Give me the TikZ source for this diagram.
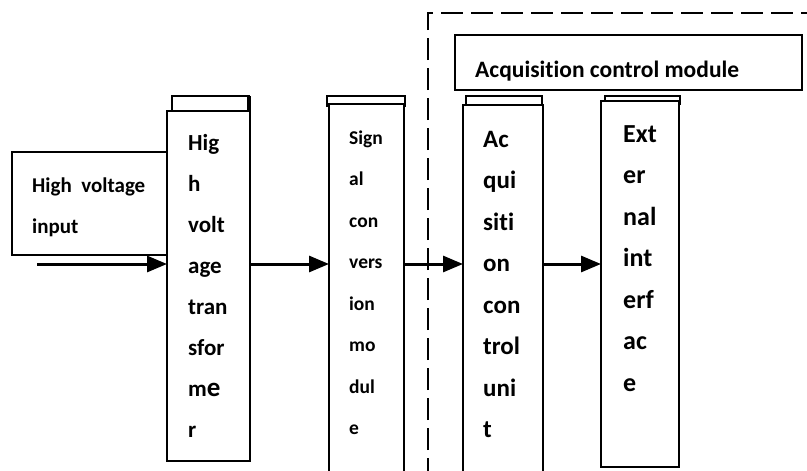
\documentclass[tikz,border=0pt]{standalone}
\usepackage{fontspec}
\setmainfont{Carlito}[Ligatures=NoCommon]
\usetikzlibrary{arrows.meta}
\begin{document}
\begin{tikzpicture}[x=1pt,y=-1pt,
  box/.style={draw, line width=2pt, fill=white, inner sep=0pt, outer sep=0pt, anchor=north west},
  txt/.style={anchor=base west, align=left, inner sep=0pt},
  conn/.style={line width=3pt, -{Triangle[length=20pt,width=16pt]}},
  frame/.style={line width=2pt, dash pattern=on 22pt off 8pt}]
\clip (0,0) rectangle (807,471);
\fill[white] (0,0) rectangle (807,471);
% dashed frame of the acquisition control module
\coordinate (fb) at (428,480);
\coordinate (fc) at (428,13);
\coordinate (fr) at (830,13);
\draw[frame] (fb) -- (fc) -- (fr);
% acquisition control module title box
\node[box, minimum width=347pt, minimum height=55pt] (acm) at (455,35) {};
\node[txt, font=\bfseries\fontsize{23.5}{28}\selectfont] (acmt) at (475,77) {Acquisition control module};
% high voltage input (base anchor = baseline of last line)
\node[box, minimum width=155pt, minimum height=103pt] (hv) at (12,152) {};
\node[txt, font=\bfseries\fontsize{21}{41}\selectfont] (hvt) at (32,233) {High\ \ voltage\\input};
% transformer
\node[box, minimum width=77pt, minimum height=17pt] (trtab) at (172,96) {};
\draw[line width=3.5pt] (trtab.north east) -- (trtab.south east);
\node[box, minimum width=83pt, minimum height=350pt] (tr) at (167,111) {};
\node[txt, font=\bfseries\fontsize{23}{41}\selectfont] (trt) at (188,437) {Hig\\h\\volt\\age\\tran\\sfor\\m{\fontsize{27}{41}\selectfont e}\\r};
% signal conversion module
\node[box, minimum width=78pt, minimum height=10pt] (sctab) at (327,96) {};
\node[box, minimum width=75pt, minimum height=380pt] (sc) at (329,104) {};
\node[txt, font=\bfseries\fontsize{19.5}{41.5}\selectfont] (sct) at (349,434.5) {Sign\\al\\con\\vers\\ion\\mo\\dul\\e};
% acquisition control unit
\node[box, minimum width=76pt, minimum height=12pt] (autab) at (466,96) {};
\node[box, minimum width=80pt, minimum height=380pt] (au) at (463,105) {};
\node[txt, font=\bfseries\fontsize{25}{41.5}\selectfont] (aut) at (483,437.5) {Ac\\qui\\siti\\on\\con\\trol\\uni\\t};
% external interface
\node[box, minimum width=75pt, minimum height=8pt] (eitab) at (605,96) {};
\node[box, minimum width=78pt, minimum height=366pt] (ei) at (601,101) {};
\node[txt, font=\bfseries\fontsize{26}{41.5}\selectfont] (eit) at (623,391) {Ext\\er\\nal\\int\\erf\\ac\\e};
% connectors
\coordinate (ay) at (0,264);
\coordinate (src) at (37,264);
\draw[conn] (src) -- (tr.west |- ay);
\draw[conn] (tr.east |- ay) -- (sc.west |- ay);
\draw[conn] (sc.east |- ay) -- (au.west |- ay);
\draw[conn] (au.east |- ay) -- (ei.west |- ay);
\end{tikzpicture}
\end{document}
